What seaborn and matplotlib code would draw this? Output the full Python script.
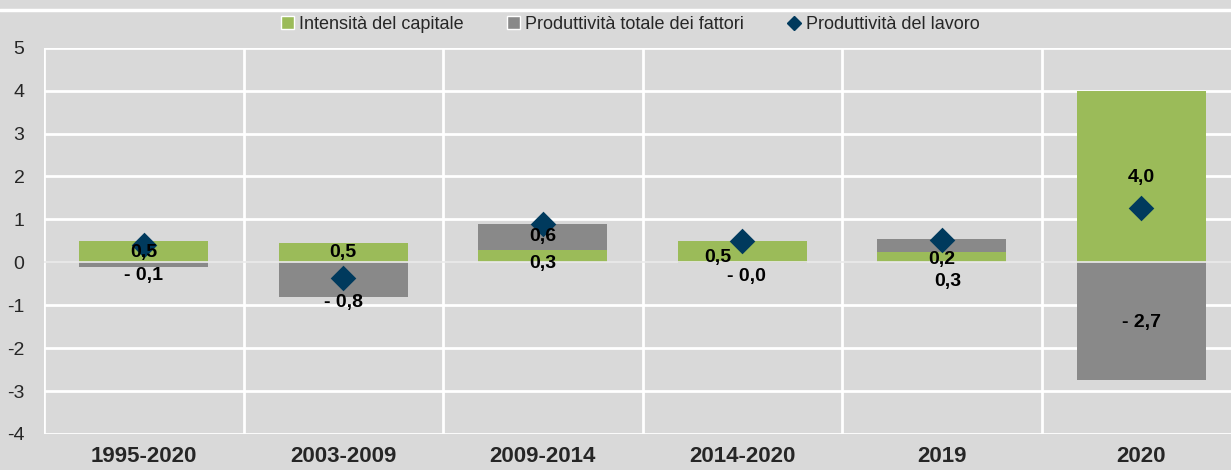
import numpy as np
import pandas as pd
import seaborn as sns
import matplotlib

matplotlib.use("Agg")
import matplotlib.pyplot as plt
from matplotlib.lines import Line2D
from matplotlib.patches import Patch

# Data.
periods = ["1995-2020", "2003-2009", "2009-2014", "2014-2020", "2019", "2020"]
capital = [0.49, 0.45, 0.28, 0.49, 0.23, 3.98]
tfp = [-0.1, -0.8, 0.61, -0.02, 0.31, -2.74]
labour = [0.4, -0.36, 0.9, 0.49, 0.52, 1.26]
capital_txt = ["0,5", "0,5", "0,3", "0,5", "0,2", "4,0"]
tfp_txt = ["- 0,1", "- 0,8", "0,6", "- 0,0", "0,3", "- 2,7"]

# Label anchors (data units) and horizontal nudges, as in the source chart.
capital_lab_y = [0.22, 0.22, -0.02, 0.12, 0.06, 1.98]
capital_lab_dx = [0.0, 0.0, 0.0, -0.12, 0.0, 0.0]
tfp_lab_y = [-0.3, -0.93, 0.6, -0.32, -0.45, -1.4]
tfp_lab_dx = [0.0, 0.0, 0.0, 0.02, 0.03, 0.0]

green = "#9BBB59"
grey = "#898989"
navy = "#003A5D"
bg = "#D9D9D9"

df = pd.DataFrame(
    {"period": periods, "capital": capital, "tfp": tfp, "labour": labour}
)
df["tfp_bottom"] = [
    c if (c > 0) == (t > 0) else 0.0 for c, t in zip(capital, tfp)
]

sns.set_theme(style="white")
plt.rcParams["font.family"] = ["Liberation Sans Narrow", "Liberation Sans", "DejaVu Sans"]

fig = plt.figure(figsize=(12.31, 4.70), dpi=100, facecolor=bg)
ax_left = 44 / 1231
ax = fig.add_axes([ax_left, 0.0766, 1.0 - ax_left, 0.822])
ax.set_facecolor(bg)

x = np.arange(len(periods))
width = 0.645

sns.barplot(
    data=df, x="period", y="capital", color=green, width=width,
    saturation=1, ax=ax, zorder=2, linewidth=0,
)
ax.bar(x, df["tfp"], width=width, bottom=df["tfp_bottom"], color=grey,
       linewidth=0, zorder=2)
sns.scatterplot(
    data=df, x="period", y="labour", marker="D", s=170, color=navy,
    edgecolor=navy, linewidth=0, ax=ax, zorder=4, legend=False,
)

for i in range(len(periods)):
    ax.text(x[i] + capital_lab_dx[i], capital_lab_y[i], capital_txt[i],
            ha="center", va="center", fontsize=14, fontweight="bold",
            color="black", zorder=5)
    ax.text(x[i] + tfp_lab_dx[i], tfp_lab_y[i], tfp_txt[i],
            ha="center", va="center", fontsize=14, fontweight="bold",
            color="black", zorder=5)

ax.set_ylim(-4, 5)
ax.set_xlim(-0.5, -0.5 + (1231 - 44) / 199.5)
ax.set_yticks(range(-4, 6))
ax.set_yticklabels([str(v) for v in range(-4, 6)], fontsize=14)
ax.set_xticks(x)
ax.set_xticklabels(periods, fontsize=16, fontweight="bold")
ax.tick_params(axis="both", length=0)
ax.tick_params(axis="y", pad=14)
ax.tick_params(axis="x", pad=9)
ax.set_xlabel("")
ax.set_ylabel("")

for v in range(-4, 6):
    if v == 0:
        ax.axhline(v, color="#EBEBEB", lw=1.2, zorder=3)
    else:
        ax.axhline(v, color="white", lw=2, zorder=1)
for b in np.arange(-0.5, len(periods), 1.0):
    ax.axvline(b, color="white", lw=2, zorder=1)
for s in ax.spines.values():
    s.set_visible(False)

fig.add_artist(Line2D([0, 1], [0.979, 0.979], color="white", lw=2.5))

handles = [
    Patch(facecolor=green, label="Intensità del capitale"),
    Patch(facecolor=grey, label="Produttività totale dei fattori"),
    Line2D([], [], marker="D", color=navy, ls="", markersize=7,
           label="Produttività del lavoro"),
]
fig.legend(
    handles=handles, loc="center", bbox_to_anchor=(0.512, 0.948), ncol=3,
    frameon=False, fontsize=13, handlelength=0.7, handleheight=0.7,
    handletextpad=0.3, columnspacing=2.4,
)

fig.savefig("out.png", dpi=100, facecolor=bg)
